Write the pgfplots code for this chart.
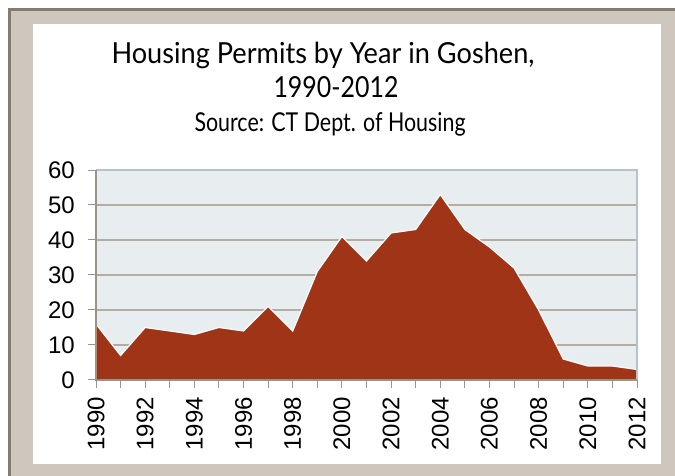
\documentclass[border=0pt]{standalone}
\usepackage{pgfplots}
\pgfplotsset{compat=1.18}
\usepackage{fontspec}
\setmainfont{Liberation Sans}
\newfontfamily\titlefont{Lato}
\definecolor{frame}{RGB}{206,199,189}
\definecolor{framedark}{RGB}{134,124,110}
\definecolor{areac}{RGB}{159,53,22}
\definecolor{plotbg}{RGB}{232,237,240}
\definecolor{gridc}{RGB}{181,173,162}
\definecolor{axisc}{RGB}{156,147,135}
\definecolor{borderc}{RGB}{179,195,207}
\pgfplotstableread{
year val
1990 16
1991 7
1992 15
1993 14
1994 13
1995 15
1996 14
1997 21
1998 14
1999 31
2000 41
2001 34
2002 42
2003 43
2004 53
2005 43
2006 38
2007 32
2008 20
2009 6
2010 4
2011 4
2012 3
}\permits
\begin{document}
\begin{tikzpicture}[x=1pt,y=1pt]
\useasboundingbox (0,0) rectangle (675,476);
\fill[white] (0,0) rectangle (675,476);
\fill[frame] (8,0) rectangle (675,468);
\fill[framedark] (8,465) rectangle (675,468);
\fill[framedark] (8,0) rectangle (11,468);
\fill[white] (33,12) rectangle (661,452);
\node[anchor=base,inner sep=0] at (323,412) {\resizebox{423pt}{\height}{\titlefont\fontsize{29}{29}\selectfont Housing Permits by Year in Goshen,}};
\node[anchor=base,inner sep=0] at (336,378) {\resizebox{125pt}{\height}{\titlefont\fontsize{29}{29}\selectfont 1990-2012}};
\node[anchor=base,inner sep=0] at (330,344) {\resizebox{271pt}{\height}{\titlefont\fontsize{26}{26}\selectfont Source: CT Dept. of Housing}};
\begin{axis}[
  at={(96pt,96pt)}, anchor=south west,
  scale only axis, width=541pt, height=210pt,
  xmin=1990, xmax=2012, ymin=0, ymax=60,
  xtick={1990,1992,...,2012},
  minor xtick={1991,1993,...,2011},
  ytick={0,10,...,60},
  x tick label style={/pgf/number format/1000 sep={}},
  tick label style={font=\fontsize{24}{24}\selectfont, /pgf/number format/assume math mode=true},
  xticklabel style={rotate=90, anchor=east, inner sep=0pt, xshift=-9pt},
  yticklabel style={anchor=east, inner sep=0pt, xshift=-13pt},
  tick align=outside,
  major tick length=8pt, minor tick length=8pt,
  every tick/.style={color=axisc, line width=1pt},
  ymajorgrids,
  major grid style={color=gridc, line width=1.2pt},
  axis line style={draw=none},
  axis background/.style={fill=plotbg},
  xtick pos=bottom, ytick pos=left,
  clip=false,
]
\addplot[fill=areac, draw=none] table[x=year,y=val] {\permits} \closedcycle;
\addplot[draw=white, line width=1.2pt, mark=none] table[x=year,y=val] {\permits};
\draw[color=borderc, line width=1.5pt] (rel axis cs:0,1) -- (rel axis cs:1,1) -- (rel axis cs:1,0);
\draw[color=axisc, line width=1.2pt] (rel axis cs:0,1) -- (rel axis cs:0,0) -- (rel axis cs:1,0);
\end{axis}
\end{tikzpicture}
\end{document}
